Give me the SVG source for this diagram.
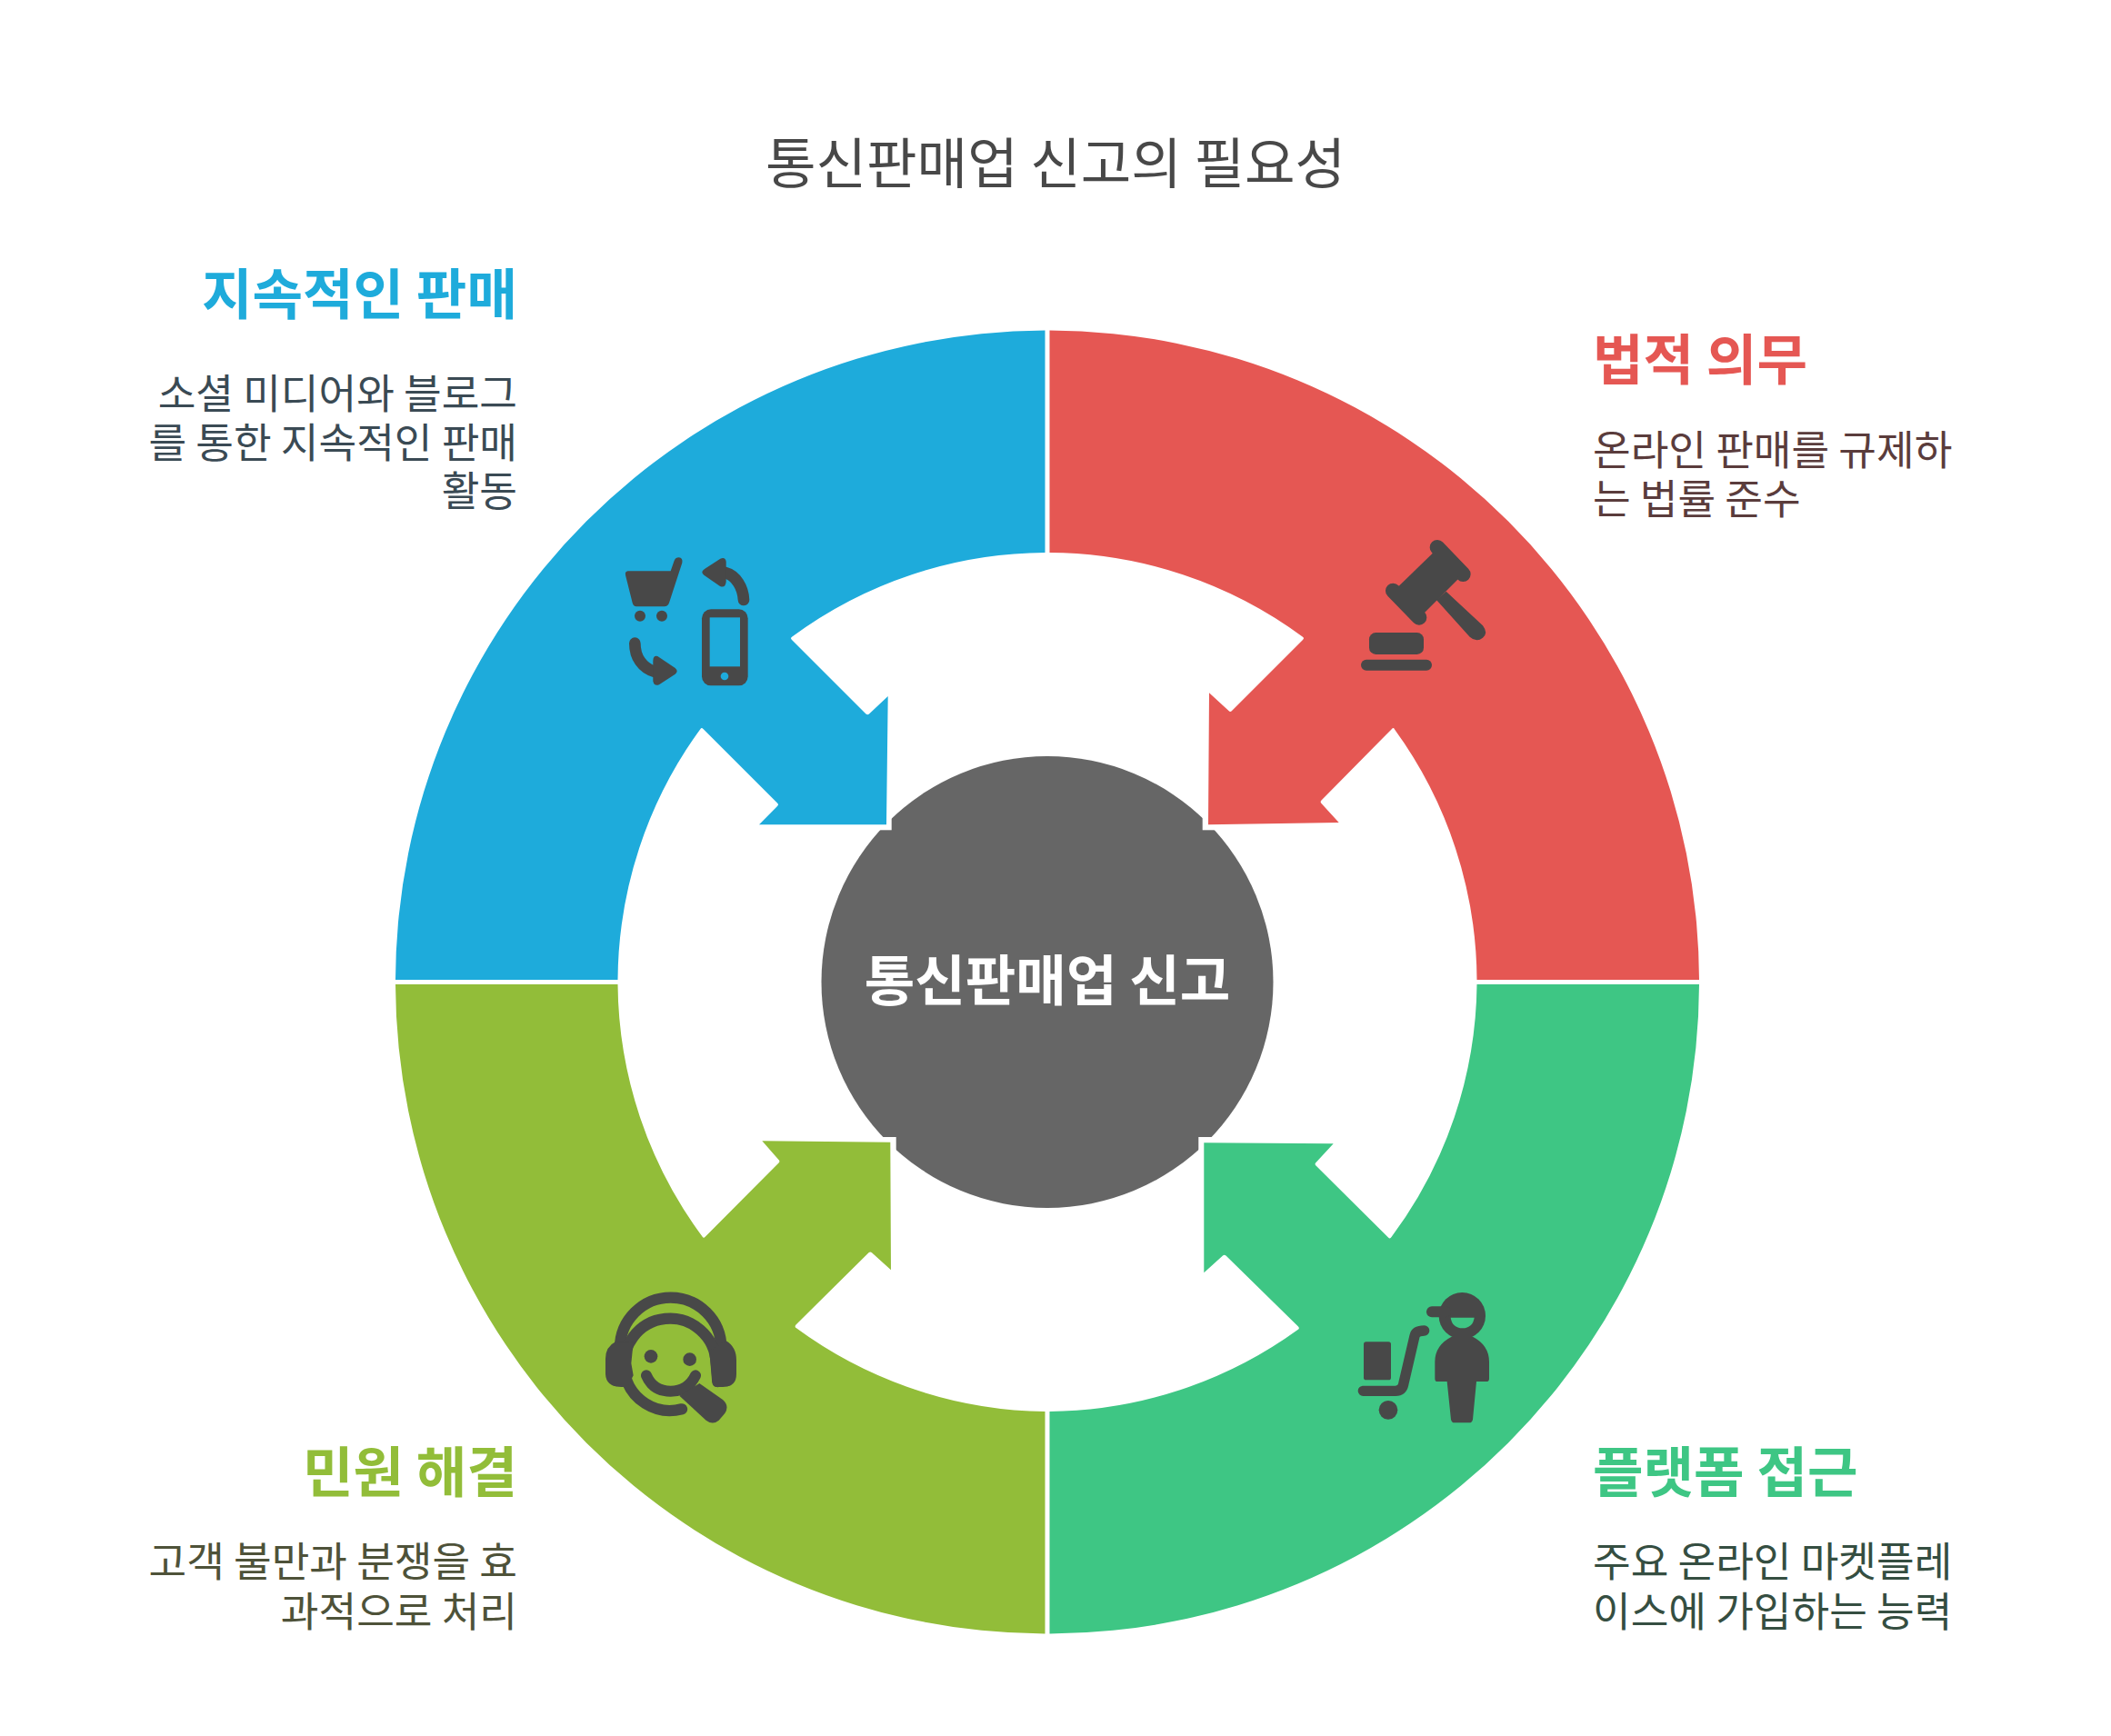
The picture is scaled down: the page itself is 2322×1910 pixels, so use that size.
<svg xmlns="http://www.w3.org/2000/svg" width="2322" height="1910" viewBox="0 0 2322 1910">
<style>
text{font-family:"Noto Sans CJK KR","Noto Sans",sans-serif}
.t{font-size:60.400px;fill:#484848}
.h{font-size:60.400px;font-weight:700}
.d{font-size:45.300px}
.e{text-anchor:end}
.ic{fill:#484848}
.st{fill:none;stroke:#484848;stroke-linecap:round}
.gap{fill:#fff}
</style>
<rect width="2322" height="1910" fill="#fff"/>
<text id="title" class="t" x="1161" y="202" text-anchor="middle">통신판매업 신고의 필요성</text>

<g id="center">
<circle cx="1152" cy="1080.5" r="248.5" fill="#666"/>
<rect class="gap" x="940" y="880" width="40.700" height="33.300"/>
<rect class="gap" x="1322.700" y="880" width="40" height="33.300"/>
<rect class="gap" x="940" y="1251" width="45.700" height="40"/>
<rect class="gap" x="1318.300" y="1251" width="40" height="40"/>
<text x="1152" y="1100.500" text-anchor="middle" font-size="60.400" font-weight="700" fill="#fff">통신판매업 신고</text>
</g>

<g id="node-blue">
<path fill="#1eabdb" d="M1149.500,363.500 A717 717 0 0 0 435,1078 L679.500,1078 A472.500 472.500 0 0 1 770.500,802 Q771.700,800 773.500,802 L855,883.500 Q857,885.300 855,887 L835,907.300 L975,907.300 L976.700,766 L956,785.500 Q954.300,787 952.500,785.500 L871,704 Q869,702 871,700.700 A472.500 472.500 0 0 1 1149.500,608 Z"/>
<g transform="translate(660 590) scale(.33333)">
<path class="ic" d="M92,115 H233 L245,80 Q250,70 260,70 Q274,72 271,88 L228,220 Q224,232 212,232 H120 Q110,232 107,220 L84,128 Q82,116 92,115 Z"/>
<circle class="ic" cx="132" cy="263" r="18"/><circle class="ic" cx="204" cy="263" r="18"/>
<path class="st" stroke-width="38" d="M474,210 C472,170 450,130 412,120"/>
<path class="ic" d="M345,108 L397,74 Q414,68 416,84 L416,150 Q414,172 396,165 L343,128 Q330,118 345,108Z"/>
<path class="st" stroke-width="38" d="M115,353 C115,400 140,435 180,447"/>
<path class="ic" d="M190,396 Q176,392 175,410 L175,478 Q178,496 195,490 L248,455 Q260,445 248,435Z"/>
<rect class="ic" x="336" y="241" width="152" height="252" rx="30"/>
<rect x="362" y="268" width="100" height="162" fill="#1eabdb"/>
<circle cx="411" cy="462" r="13" fill="#1eabdb"/>
</g>
<text class="h e" x="569" y="345.500" fill="#1eabdb">지속적인 판매</text>
<g class="d e" fill="#3a4a54"><text x="569" y="449.500">소셜 미디어와 블로그</text><text x="569" y="503.500">를 통한 지속적인 판매</text><text x="569" y="556.500">활동</text></g>
</g>

<g id="node-red">
<path fill="#e55753" d="M1154.500,363.500 A717 717 0 0 1 1869,1078 L1624.500,1078 A472.500 472.500 0 0 0 1534,802.500 Q1532.700,800 1531,802 L1453.500,880.500 Q1451.700,882.300 1453.500,884 L1472.700,905 L1329,907.300 L1330,762.300 L1351.500,782 Q1353.300,783.800 1355,782 L1433,704 Q1435,702 1433,700.700 A472.500 472.500 0 0 0 1154.500,608 Z"/>
<g transform="translate(1500 580) scale(.33333)">
<path class="st" stroke-width="50" d="M243,67 L328,155 M97,210 L183,298"/>
<path class="ic" d="M232,82 L110,200 L195,288 L315,168 Z"/>
<path class="ic" d="M272,212 L393,325 Q412,350 393,365 Q372,382 350,362 L240,240 Z"/>
<rect class="ic" x="18" y="348" width="180" height="72" rx="22"/>
<rect class="ic" x="-9" y="437" width="234" height="36" rx="18"/>
</g>
<text class="h" x="1752" y="418" fill="#e55753">법적 의무</text>
<g class="d" fill="#5a3c3c"><text x="1752" y="512">온라인 판매를 규제하</text><text x="1752" y="566">는 법률 준수</text></g>
</g>

<g id="node-olive">
<path fill="#92bd39" d="M1149.500,1797.500 A717 717 0 0 1 435,1083 L679.500,1083 A472.500 472.500 0 0 0 772.500,1360.500 Q774,1363 775.700,1360.800 L856.500,1279.500 Q858.300,1277.700 856.500,1276 L838.300,1255.300 L979.300,1256.700 L980,1397.300 L959,1378.300 Q957.300,1376.500 955.500,1378.300 L875.500,1457.500 Q873.500,1460 876,1461.300 A472.500 472.500 0 0 0 1149.500,1553 Z"/>
<g transform="translate(660 1420) scale(.33333)">
<path class="st" stroke-width="37" stroke-linecap="butt" d="M66,190 A167,167 0 0 1 400,190"/>
<path class="st" stroke-width="37" d="M270,391 A152 152 0 1 1 383,240 L388,300"/>
<path class="ic" d="M360,200 L415,165 Q450,185 450,230 V275 Q450,318 405,318 H385 Q372,318 371,303 L365,240 Z"/>
<path class="ic" d="M52,168 Q18,185 18,225 V275 Q20,318 70,318 H90 L110,280 L103,240 L110,170 Z"/>
<circle class="ic" cx="168" cy="217" r="22"/><circle class="ic" cx="296" cy="227" r="22"/>
<path class="st" stroke-width="36" d="M153,280 Q175,332 233,332 Q290,332 315,280"/>
<path class="ic" d="M328,306 L405,360 Q428,380 412,405 L392,428 Q372,445 350,428 L262,347 Z"/>
</g>
<text class="h e" x="569" y="1641.500" fill="#92bd39">민원 해결</text>
<g class="d e" fill="#4e5239"><text x="569" y="1735">고객 불만과 분쟁을 효</text><text x="569" y="1790">과적으로 처리</text></g>
</g>

<g id="node-green">
<path fill="#3ec684" d="M1154.500,1797.500 A717 717 0 0 0 1869,1083 L1624.500,1083 A472.500 472.500 0 0 1 1530.500,1361 Q1529,1363.500 1527,1361.500 L1447.500,1282.500 Q1445.700,1280.700 1447.500,1279 L1466.700,1258.300 L1324.300,1257.300 L1324.300,1400.300 L1345,1381.500 Q1346.700,1380 1348.500,1381.500 L1428,1459.500 Q1430,1461.700 1427.500,1463 A472.500 472.500 0 0 1 1154.500,1553 Z"/>
<g transform="translate(1270 1220) scale(.33333)">
<circle class="ic" cx="1015" cy="683" r="77"/>
<path class="st" stroke-width="36" d="M915,670 H960"/>
<path fill="#3ec684" d="M977,689 H1055 Q1050,723 1016,724 Q982,723 977,689Z"/>
<path class="ic" d="M925,890 V835 Q925,780 980,752 H1050 Q1104,780 1104,835 V890 Q1104,900 1095,900 H1062 L1050,1025 Q1048,1036 1038,1036 H990 Q980,1036 978,1025 L965,900 H933 Q925,900 925,890Z"/>
<rect class="ic" x="690" y="769" width="90" height="126" rx="8"/>
<path class="st" stroke-width="34" d="M688,931 H795 Q818,931 822,905 L858,750 Q862,732 890,732"/>
<circle class="ic" cx="771" cy="994" r="31"/>
</g>
<text class="h" x="1752" y="1642" fill="#3ec684">플랫폼 접근</text>
<g class="d" fill="#354e41"><text x="1752" y="1735">주요 온라인 마켓플레</text><text x="1752" y="1790">이스에 가입하는 능력</text></g>
</g>
</svg>
